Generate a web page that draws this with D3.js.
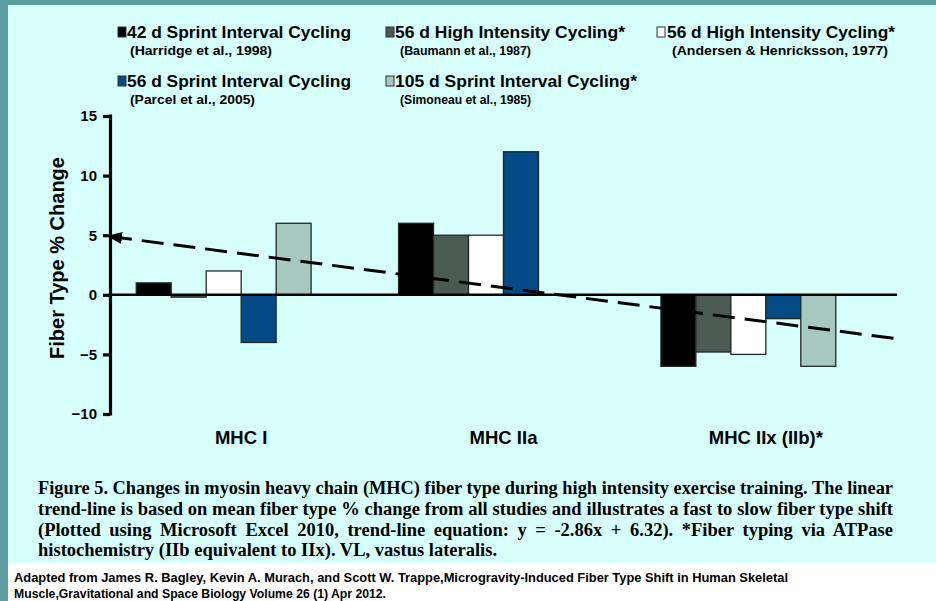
<!DOCTYPE html>
<html>
<head>
<meta charset="utf-8">
<script src="https://cdn.jsdelivr.net/npm/d3@7"></script>
<style>
  html, body { margin: 0; padding: 0; background: #ffffff; }
  svg { display: block; }
</style>
</head>
<body>
<svg id="chart" width="936" height="601"></svg>
<script>
// Fiber type % change by MHC isoform, five training studies
const categories = ["MHC I", "MHC IIa", "MHC IIx (IIb)*"];
const seriesNames = [
  "42 d Sprint Interval Cycling",
  "56 d High Intensity Cycling*",
  "56 d High Intensity Cycling*",
  "56 d Sprint Interval Cycling",
  "105 d Sprint Interval Cycling*"
];
const seriesRefs = [
  "(Harridge et al., 1998)",
  "(Baumann et al., 1987)",
  "(Andersen & Henricksson, 1977)",
  "(Parcel et al., 2005)",
  "(Simoneau et al., 1985)"
];
const harridge1998  = [1, 6, -6];
const baumann1987   = [-0.2, 5, -4.8];
const andersen1977  = [2, 5, -5];
const parcel2005    = [-4, 12, -2];
const simoneau1985  = [6, 0, -6];
const seriesValues = [harridge1998, baumann1987, andersen1977, parcel2005, simoneau1985];
const seriesColors = ["#000000", "#4b5b53", "#ffffff", "#044a86", "#a6c8bf"];
// six bar slots per category; the last one stays empty
const slots = [0, 1, 2, 3, 4, 5];
const yTicks = [15, 10, 5, 0, -5, -10];
// linear trend of the category means: y = -2.86x + 6.32
const trendSlope = -2.86;
const trendIntercept = 6.32;
const trendSpan = [0.5, 3.5];

const captionLines = [
  "Figure 5. Changes in myosin heavy chain (MHC) fiber type during high intensity exercise training. The linear",
  "trend-line is based on mean fiber type % change from all studies and illustrates a fast to slow fiber type shift",
  "(Plotted using Microsoft Excel 2010, trend-line equation: y = -2.86x + 6.32). *Fiber typing via ATPase",
  "histochemistry (IIb equivalent to IIx). VL, vastus lateralis."
];
const sourceLines = [
  "Adapted from James R. Bagley, Kevin A. Murach, and Scott W. Trappe,Microgravity-Induced Fiber Type Shift in Human Skeletal",
  "Muscle,Gravitational and Space Biology Volume 26 (1) Apr 2012."
];

const svg = d3.select("#chart");
const W = 936, H = 601;

// set a text line to a given width: condense glyphs when too long, widen word gaps when short
function fitWidth(node, target, justify) {
  const w = node.getComputedTextLength();
  const sel = d3.select(node);
  if (w > target || !justify) {
    sel.attr("textLength", target).attr("lengthAdjust", "spacingAndGlyphs");
  } else {
    const gaps = (node.textContent.match(/ /g) || []).length;
    if (gaps > 0) sel.style("word-spacing", ((target - w) / gaps) + "px");
  }
}

// slide frame: teal border, pale cyan panel, white footer
svg.append("rect").attr("x", 0).attr("y", 0).attr("width", W).attr("height", H).attr("fill", "#ffffff");
svg.append("rect").attr("x", 0).attr("y", 0).attr("width", W).attr("height", 5).attr("fill", "#5f9ea0");
svg.append("rect").attr("x", 0).attr("y", 0).attr("width", 8).attr("height", H).attr("fill", "#5f9ea0");
svg.append("rect").attr("x", 8).attr("y", 5).attr("width", W - 8).attr("height", 558).attr("fill", "#d7fffc");

const plot = { left: 110, right: 897, top: 116, bottom: 414 };

const y = d3.scaleLinear().domain([-10, 15]).range([plot.bottom, plot.top]);
const x0 = d3.scaleBand().domain(categories).range([plot.left, plot.right]).paddingInner(0).paddingOuter(0);
const x1 = d3.scaleBand().domain(slots).range([0, x0.bandwidth()]).paddingInner(0).paddingOuter(0.75);
const xt = d3.scaleLinear().domain(trendSpan).range([plot.left, plot.right]);

const sans = "'Liberation Sans', Arial, Helvetica, sans-serif";

// bars
const bars = [];
seriesValues.forEach((vals, s) => {
  vals.forEach((v, c) => bars.push({ s, c, v }));
});
svg.append("g").selectAll("rect").data(bars.filter(d => d.v !== 0)).join("rect")
  .attr("x", d => x0(categories[d.c]) + x1(d.s))
  .attr("width", x1.bandwidth())
  .attr("y", d => y(Math.max(0, d.v)))
  .attr("height", d => Math.abs(y(d.v) - y(0)))
  .attr("fill", d => seriesColors[d.s])
  .attr("stroke", "#1e2a26")
  .attr("stroke-width", 1.3);

// zero line
svg.append("line")
  .attr("x1", plot.left).attr("x2", plot.right)
  .attr("y1", y(0)).attr("y2", y(0))
  .attr("stroke", "#000").attr("stroke-width", 2.6);

// y axis
const yAxis = d3.axisLeft(y).tickValues(yTicks).tickSize(7).tickSizeOuter(0).tickPadding(6).tickFormat(d3.format("d"));
const gy = svg.append("g").attr("transform", `translate(${plot.left},0)`).call(yAxis);
gy.select(".domain").attr("stroke", "#000").attr("stroke-width", 3.2)
  .attr("d", `M0.5,${plot.top - 1.5}V${plot.bottom + 1.5}`);
gy.selectAll(".tick line").attr("stroke", "#000").attr("stroke-width", 3.2);
gy.selectAll(".tick text")
  .attr("fill", "#000").style("font-family", sans).style("font-weight", "bold").style("font-size", "15px");

svg.append("text")
  .attr("transform", "translate(64,258) rotate(-90)")
  .attr("text-anchor", "middle")
  .style("font-family", sans).style("font-weight", "bold").style("font-size", "20px")
  .attr("fill", "#000")
  .text("Fiber Type % Change");

// category labels
svg.append("g").selectAll("text").data(categories).join("text")
  .attr("x", d => x0(d) + x0.bandwidth() / 2)
  .attr("y", 444)
  .attr("text-anchor", "middle")
  .style("font-family", sans).style("font-weight", "bold").style("font-size", "18.5px")
  .attr("fill", "#000")
  .text(d => d);

// trend line with arrow at the start
const defs = svg.append("defs");
defs.append("marker")
  .attr("id", "arrowHead")
  .attr("markerUnits", "userSpaceOnUse")
  .attr("viewBox", "0 0 15 12")
  .attr("refX", 12).attr("refY", 6)
  .attr("markerWidth", 15).attr("markerHeight", 12)
  .attr("orient", "auto-start-reverse")
  .append("path").attr("d", "M0,0L15,6L0,12Z").attr("fill", "#000");

const trendPts = trendSpan.map(t => [xt(t), y(trendSlope * t + trendIntercept)]);
svg.append("path")
  .attr("d", d3.line()(trendPts))
  .attr("fill", "none")
  .attr("stroke", "#000")
  .attr("stroke-width", 3)
  .attr("stroke-dasharray", "22,10")
  .attr("marker-start", "url(#arrowHead)");

// legend
const legendPos = [
  { mx: 118, tx: 127, sx: 130, y: 38, w: 224, sw: 142 },
  { mx: 386, tx: 395, sx: 400, y: 38, w: 230, sw: 131 },
  { mx: 657, tx: 667, sx: 672, y: 38, w: 228, sw: 216 },
  { mx: 118, tx: 127, sx: 130, y: 87, w: 224, sw: 125 },
  { mx: 386, tx: 395, sx: 400, y: 87, w: 242, sw: 131 }
];
const lg = svg.append("g").selectAll("g").data(seriesNames).join("g");
lg.append("rect")
  .attr("x", (d, i) => legendPos[i].mx)
  .attr("y", (d, i) => legendPos[i].y - 11)
  .attr("width", 8).attr("height", 10)
  .attr("fill", (d, i) => seriesColors[i])
  .attr("stroke", "#333").attr("stroke-width", 1);
lg.append("text")
  .attr("x", (d, i) => legendPos[i].tx)
  .attr("y", (d, i) => legendPos[i].y)
  .style("font-family", sans).style("font-weight", "bold").style("font-size", "17px")
  .attr("fill", "#000")
  .text(d => d)
  .each(function (d, i) { fitWidth(this, legendPos[i].w, false); });
lg.append("text")
  .attr("x", (d, i) => legendPos[i].sx)
  .attr("y", (d, i) => legendPos[i].y + 17)
  .style("font-family", sans).style("font-weight", "bold").style("font-size", "13px")
  .attr("fill", "#000")
  .text((d, i) => seriesRefs[i])
  .each(function (d, i) { fitWidth(this, legendPos[i].sw, false); });

// figure caption; the first three lines are justified by widening word gaps
const capY = [494, 515, 536, 556];
const capW = 855;
svg.append("g").selectAll("text").data(captionLines).join("text")
  .attr("x", 38)
  .attr("y", (d, i) => capY[i])
  .style("font-family", "'Liberation Serif', 'Times New Roman', serif")
  .style("font-weight", "bold").style("font-size", "18.5px")
  .attr("fill", "#000")
  .text(d => d)
  .each(function (d, i) { if (i < captionLines.length - 1) fitWidth(this, capW, true); });

// source note
const srcW = [774, 372];
svg.append("g").selectAll("text").data(sourceLines).join("text")
  .attr("x", 14)
  .attr("y", (d, i) => 582 + i * 16)
  .style("font-family", sans).style("font-weight", "bold").style("font-size", "13.5px")
  .attr("fill", "#000")
  .text(d => d)
  .each(function (d, i) { fitWidth(this, srcW[i], false); });
</script>
</body>
</html>
